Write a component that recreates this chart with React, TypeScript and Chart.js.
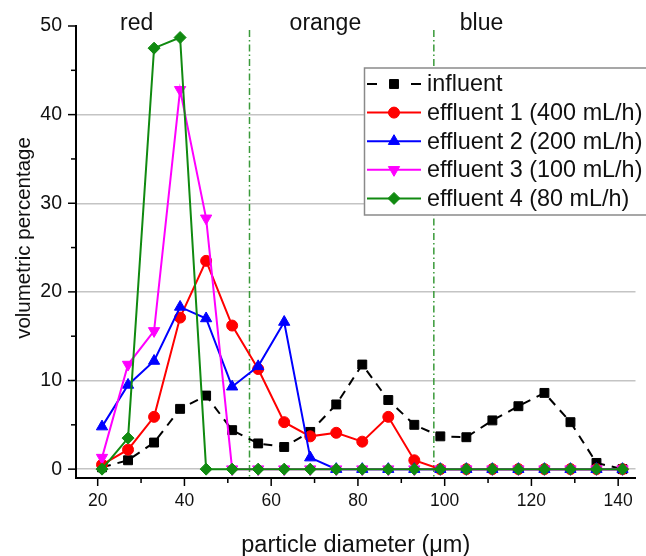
import React, { useEffect, useRef } from 'react';
import { Chart, registerables } from 'chart.js';

Chart.register(...registerables);

// Particle size classes (µm) and volumetric percentages per sample
const diameters = [21, 27, 33, 39, 45, 51, 57, 63, 69, 75, 81, 87, 93, 99, 105, 111, 117, 123, 129, 135, 141];
const influent = [0.2, 1.0, 3.0, 6.8, 8.3, 4.4, 2.9, 2.5, 4.2, 7.3, 11.8, 7.8, 5.0, 3.7, 3.6, 5.5, 7.1, 8.6, 5.3, 0.7, 0.0];
const effluent1 = [0.5, 2.2, 5.9, 17.1, 23.5, 16.2, 11.3, 5.3, 3.7, 4.1, 3.1, 5.9, 1.0, 0, 0, 0, 0, 0, 0, 0, 0];
const effluent2 = [4.8, 9.5, 12.2, 18.3, 17.0, 9.3, 11.6, 16.6, 1.3, 0, 0, 0, 0, 0, 0, 0, 0, 0, 0, 0, 0];
const effluent3 = [1.3, 11.8, 15.6, 42.8, 28.3, 0, 0, 0, 0, 0, 0, 0, 0, 0, 0, 0, 0, 0, 0, 0, 0];
const effluent4 = [0, 3.5, 47.5, 48.7, 0, 0, 0, 0, 0, 0, 0, 0, 0, 0, 0, 0, 0, 0, 0, 0, 0];

const seriesLabels = [
  'influent',
  'effluent 1 (400 mL/h)',
  'effluent 2 (200 mL/h)',
  'effluent 3 (100 mL/h)',
  'effluent 4 (80 mL/h)',
];

// Colour regions along the diameter axis
const regionNames = ['red', 'orange', 'blue'];
const regionLabelAt = [29, 72.5, 108.5];
const regionBounds = [55, 97.5];

const xTicks = [20, 40, 60, 80, 100, 120, 140];
const yTicks = [0, 10, 20, 30, 40, 50];

const xTitle = 'particle diameter (μm)';
const yTitle = 'volumetric percentage';

const FONT = "'Liberation Sans', Arial, Helvetica, sans-serif";
const GREEN = '#108a10';

type Marker = { style: string; radius: number; rotation: number };

function drawMarker(ctx: CanvasRenderingContext2D, m: Marker, x: number, y: number, fill: string) {
  const r = m.radius;
  ctx.save();
  ctx.fillStyle = fill;
  ctx.strokeStyle = fill;
  ctx.lineWidth = 1;
  ctx.setLineDash([]);
  ctx.translate(x, y);
  ctx.rotate((m.rotation * Math.PI) / 180);
  ctx.beginPath();
  if (m.style === 'circle') {
    ctx.arc(0, 0, r, 0, Math.PI * 2);
  } else if (m.style === 'rect') {
    const s = Math.SQRT1_2 * r;
    ctx.rect(-s, -s, 2 * s, 2 * s);
  } else if (m.style === 'rectRot') {
    ctx.moveTo(0, -r);
    ctx.lineTo(r, 0);
    ctx.lineTo(0, r);
    ctx.lineTo(-r, 0);
    ctx.closePath();
  } else if (m.style === 'triangle') {
    for (let i = 0; i < 3; i++) {
      const a = -Math.PI / 2 + (i * 2 * Math.PI) / 3;
      const px = Math.cos(a) * r;
      const py = Math.sin(a) * r;
      if (i === 0) ctx.moveTo(px, py);
      else ctx.lineTo(px, py);
    }
    ctx.closePath();
  }
  ctx.fill();
  ctx.stroke();
  ctx.restore();
}

const markers: Marker[] = [
  { style: 'rect', radius: 6.3, rotation: 0 },
  { style: 'circle', radius: 5.5, rotation: 0 },
  { style: 'triangle', radius: 6.5, rotation: 0 },
  { style: 'triangle', radius: 6.5, rotation: 180 },
  { style: 'rectRot', radius: 6, rotation: 0 },
];
const colors = ['#000000', '#ff0000', '#0000ff', '#ff00ff', GREEN];
const dashes = [[9, 7], [], [], [], []];
const seriesValues = [influent, effluent1, effluent2, effluent3, effluent4];

const decorPlugin = {
  id: 'decor',
  beforeDatasetsDraw(chart: any) {
    const { ctx, chartArea, scales } = chart;
    const x = scales.x;
    ctx.save();
    ctx.strokeStyle = '#3a9a3a';
    ctx.lineWidth = 1.5;
    ctx.setLineDash([7, 3, 1.5, 3]);
    regionBounds.forEach((v) => {
      const px = x.getPixelForValue(v);
      ctx.beginPath();
      ctx.moveTo(px, chartArea.top + 4);
      ctx.lineTo(px, chartArea.bottom);
      ctx.stroke();
    });
    ctx.restore();
  },
  afterDraw(chart: any) {
    const { ctx, chartArea, scales } = chart;
    const x = scales.x;
    const y = scales.y;
    ctx.save();

    // tick marks pointing outwards, minor ticks halfway between labelled ones
    ctx.strokeStyle = '#000';
    ctx.lineWidth = 1.5;
    ctx.setLineDash([]);
    const yMarks: [number, number][] = [];
    yTicks.forEach((v, i) => {
      yMarks.push([v, 8]);
      if (i < yTicks.length - 1) yMarks.push([(v + yTicks[i + 1]) / 2, 5]);
    });
    yMarks.forEach(([v, len]) => {
      const py = y.getPixelForValue(v);
      ctx.beginPath();
      ctx.moveTo(chartArea.left - len, py);
      ctx.lineTo(chartArea.left, py);
      ctx.stroke();
    });
    const xMarks: [number, number][] = [];
    xTicks.forEach((v, i) => {
      xMarks.push([v, 8]);
      if (i < xTicks.length - 1) xMarks.push([(v + xTicks[i + 1]) / 2, 5]);
    });
    xMarks.forEach(([v, len]) => {
      const px = x.getPixelForValue(v);
      ctx.beginPath();
      ctx.moveTo(px, chartArea.bottom);
      ctx.lineTo(px, chartArea.bottom + len);
      ctx.stroke();
    });

    // axis titles
    ctx.fillStyle = '#111';
    ctx.textAlign = 'center';
    ctx.textBaseline = 'alphabetic';
    ctx.font = `23.5px ${FONT}`;
    ctx.fillText(xTitle, (chartArea.left + chartArea.right) / 2, chart.height - 4);
    ctx.save();
    ctx.translate(30, (chartArea.top + chartArea.bottom) / 2 - 14);
    ctx.rotate(-Math.PI / 2);
    ctx.font = `20.5px ${FONT}`;
    ctx.fillText(yTitle, 0, 0);
    ctx.restore();

    // region names
    ctx.fillStyle = '#111';
    ctx.font = `23px ${FONT}`;
    ctx.textAlign = 'center';
    ctx.textBaseline = 'alphabetic';
    regionNames.forEach((name, i) => {
      ctx.fillText(name, x.getPixelForValue(regionLabelAt[i]), chartArea.top + 4);
    });

    // legend box
    const boxLeft = 364.5;
    const boxTop = 68;
    const boxBottom = 215;
    ctx.fillStyle = '#ffffff';
    ctx.fillRect(boxLeft, boxTop, 646 - boxLeft + 4, boxBottom - boxTop);
    ctx.strokeStyle = '#8a8a8a';
    ctx.lineWidth = 1.5;
    ctx.strokeRect(boxLeft, boxTop, 646 - boxLeft + 4, boxBottom - boxTop);

    const rowStart = 84;
    const rowStep = 28.6;
    const lineX0 = 367;
    const lineX1 = 421;
    ctx.font = `23.4px ${FONT}`;
    ctx.textAlign = 'left';
    ctx.textBaseline = 'middle';
    seriesLabels.forEach((label, i) => {
      const ry = rowStart + i * rowStep;
      ctx.strokeStyle = colors[i];
      ctx.lineWidth = 2;
      ctx.setLineDash([]);
      if (dashes[i].length) {
        [[lineX0, lineX0 + 10], [lineX1 - 10, lineX1]].forEach(([a, b]) => {
          ctx.beginPath();
          ctx.moveTo(a, ry);
          ctx.lineTo(b, ry);
          ctx.stroke();
        });
      } else {
        ctx.beginPath();
        ctx.moveTo(lineX0, ry);
        ctx.lineTo(lineX1, ry);
        ctx.stroke();
      }
      drawMarker(ctx, markers[i], (lineX0 + lineX1) / 2, ry, colors[i]);
      ctx.fillStyle = '#111';
      ctx.fillText(label, 427, ry + 1);
    });
    ctx.restore();
  },
};

export default function App() {
  const canvasRef = useRef<HTMLCanvasElement | null>(null);

  useEffect(() => {
    if (!canvasRef.current) return;
    Chart.defaults.font.family = FONT;
    Chart.defaults.color = '#111';

    const datasets = seriesLabels.map((label, i) => ({
      label,
      data: diameters.map((d, j) => ({ x: d, y: seriesValues[i][j] })),
      borderColor: colors[i],
      backgroundColor: colors[i],
      borderWidth: 2,
      borderDash: dashes[i],
      pointStyle: markers[i].style,
      pointRotation: markers[i].rotation,
      pointRadius: markers[i].radius,
      pointHoverRadius: markers[i].radius,
      pointBorderWidth: 1,
      pointBackgroundColor: colors[i],
      pointBorderColor: colors[i],
      tension: 0,
      order: seriesLabels.length - i,
    }));

    const chart = new Chart(canvasRef.current, {
      type: 'line',
      data: { datasets },
      options: {
        responsive: false,
        animation: false,
        devicePixelRatio: 1,
        layout: { padding: { top: 26, right: 6, left: 0, bottom: 0 } },
        plugins: {
          legend: { display: false },
          tooltip: { enabled: false },
        },
        scales: {
          x: {
            type: 'linear',
            min: 15,
            max: 144,
            afterBuildTicks: (scale: any) => {
              scale.ticks = xTicks.map((v) => ({ value: v }));
            },
            afterFit: (scale: any) => {
              scale.height = 78;
            },
            grid: { display: true, drawOnChartArea: false, drawTicks: false },
            border: { display: true, color: '#000', width: 2 },
            ticks: {
              font: { size: 17.5, family: FONT },
              color: '#111',
              padding: 13,
              maxRotation: 0,
              autoSkip: false,
            },
            title: { display: false },
          },
          y: {
            type: 'linear',
            min: -1,
            max: 50,
            afterBuildTicks: (scale: any) => {
              scale.ticks = yTicks.map((v) => ({ value: v }));
            },
            afterFit: (scale: any) => {
              scale.width = 76;
            },
            grid: {
              drawTicks: false,
              lineWidth: 1.5,
              color: (c: any) => (c.tick && c.tick.value === yTicks[yTicks.length - 1] ? 'rgba(0,0,0,0)' : '#c4c4c4'),
            },
            border: { display: true, color: '#000', width: 2 },
            ticks: {
              font: { size: 19.5, family: FONT },
              color: '#111',
              padding: 14,
              autoSkip: false,
            },
            title: { display: false },
          },
        },
      },
      plugins: [decorPlugin],
    } as any);

    return () => chart.destroy();
  }, []);

  return (
    <canvas
      ref={canvasRef}
      width={646}
      height={556}
      style={{ position: 'fixed', left: 0, top: 0, display: 'block', background: '#fff' }}
    />
  );
}
